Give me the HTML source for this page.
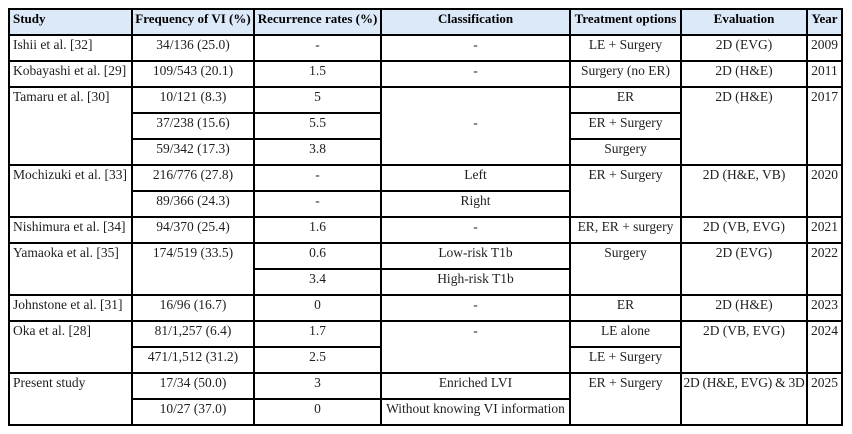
<!DOCTYPE html>
<html>
<head>
<meta charset="utf-8">
<style>
html,body{margin:0;padding:0;background:#fff;}
body{width:852px;height:434px;position:relative;overflow:hidden;font-family:"Liberation Serif","DejaVu Serif",serif;font-size:13.5px;color:#1e1e1e;}
.c{position:absolute;box-sizing:border-box;border:2px solid #000;line-height:15px;padding-top:1px;text-align:center;white-space:nowrap;overflow:visible;}
.h{background:#dce9f9;font-weight:bold;color:#000;font-size:13px;}
.s{text-align:left;padding-left:3px;}
.c0{left:8px;width:125px;}
.c1{left:131px;width:124px;}
.c2{left:253px;width:129px;}
.c3{left:380px;width:191px;}
.c4{left:569px;width:113px;}
.c5{left:680px;width:128px;}
.c6{left:806px;width:37px;}
.r1{height:28px;}
.r2{height:54px;}
.r3{height:80px;}
</style>
</head>
<body>
<!-- header -->
<div class="c h s c0 r1" style="top:8px">Study</div>
<div class="c h c1 r1" style="top:8px">Frequency of VI (%)</div>
<div class="c h c2 r1" style="top:8px">Recurrence rates (%)</div>
<div class="c h c3 r1" style="top:8px">Classification</div>
<div class="c h c4 r1" style="top:8px">Treatment options</div>
<div class="c h c5 r1" style="top:8px">Evaluation</div>
<div class="c h c6 r1" style="top:8px">Year</div>

<!-- r1 Ishii -->
<div class="c s c0 r1" style="top:34px">Ishii et al. [32]</div>
<div class="c c1 r1" style="top:34px">34/136 (25.0)</div>
<div class="c c2 r1" style="top:34px">-</div>
<div class="c c3 r1" style="top:34px">-</div>
<div class="c c4 r1" style="top:34px">LE + Surgery</div>
<div class="c c5 r1" style="top:34px">2D (EVG)</div>
<div class="c c6 r1" style="top:34px">2009</div>

<!-- r2 Kobayashi -->
<div class="c s c0 r1" style="top:60px">Kobayashi et al. [29]</div>
<div class="c c1 r1" style="top:60px">109/543 (20.1)</div>
<div class="c c2 r1" style="top:60px">1.5</div>
<div class="c c3 r1" style="top:60px">-</div>
<div class="c c4 r1" style="top:60px">Surgery (no ER)</div>
<div class="c c5 r1" style="top:60px">2D (H&amp;E)</div>
<div class="c c6 r1" style="top:60px">2011</div>

<!-- r3-5 Tamaru -->
<div class="c s c0 r3" style="top:86px">Tamaru et al. [30]</div>
<div class="c c1 r1" style="top:86px">10/121 (8.3)</div>
<div class="c c2 r1" style="top:86px">5</div>
<div class="c c3 r3" style="top:86px;padding-top:27px">-</div>
<div class="c c4 r1" style="top:86px">ER</div>
<div class="c c5 r3" style="top:86px">2D (H&amp;E)</div>
<div class="c c6 r3" style="top:86px">2017</div>
<div class="c c1 r1" style="top:112px">37/238 (15.6)</div>
<div class="c c2 r1" style="top:112px">5.5</div>
<div class="c c4 r1" style="top:112px">ER + Surgery</div>
<div class="c c1 r1" style="top:138px">59/342 (17.3)</div>
<div class="c c2 r1" style="top:138px">3.8</div>
<div class="c c4 r1" style="top:138px">Surgery</div>

<!-- r6-7 Mochizuki -->
<div class="c s c0 r2" style="top:164px">Mochizuki et al. [33]</div>
<div class="c c1 r1" style="top:164px">216/776 (27.8)</div>
<div class="c c2 r1" style="top:164px">-</div>
<div class="c c3 r1" style="top:164px">Left</div>
<div class="c c4 r2" style="top:164px">ER + Surgery</div>
<div class="c c5 r2" style="top:164px">2D (H&amp;E, VB)</div>
<div class="c c6 r2" style="top:164px">2020</div>
<div class="c c1 r1" style="top:190px">89/366 (24.3)</div>
<div class="c c2 r1" style="top:190px">-</div>
<div class="c c3 r1" style="top:190px">Right</div>

<!-- r8 Nishimura -->
<div class="c s c0 r1" style="top:216px">Nishimura et al. [34]</div>
<div class="c c1 r1" style="top:216px">94/370 (25.4)</div>
<div class="c c2 r1" style="top:216px">1.6</div>
<div class="c c3 r1" style="top:216px">-</div>
<div class="c c4 r1" style="top:216px">ER, ER + surgery</div>
<div class="c c5 r1" style="top:216px">2D (VB, EVG)</div>
<div class="c c6 r1" style="top:216px">2021</div>

<!-- r9-10 Yamaoka -->
<div class="c s c0 r2" style="top:242px">Yamaoka et al. [35]</div>
<div class="c c1 r2" style="top:242px">174/519 (33.5)</div>
<div class="c c2 r1" style="top:242px">0.6</div>
<div class="c c3 r1" style="top:242px">Low-risk T1b</div>
<div class="c c4 r2" style="top:242px">Surgery</div>
<div class="c c5 r2" style="top:242px">2D (EVG)</div>
<div class="c c6 r2" style="top:242px">2022</div>
<div class="c c2 r1" style="top:268px">3.4</div>
<div class="c c3 r1" style="top:268px">High-risk T1b</div>

<!-- r11 Johnstone -->
<div class="c s c0 r1" style="top:294px">Johnstone et al. [31]</div>
<div class="c c1 r1" style="top:294px">16/96 (16.7)</div>
<div class="c c2 r1" style="top:294px">0</div>
<div class="c c3 r1" style="top:294px">-</div>
<div class="c c4 r1" style="top:294px">ER</div>
<div class="c c5 r1" style="top:294px">2D (H&amp;E)</div>
<div class="c c6 r1" style="top:294px">2023</div>

<!-- r12-13 Oka -->
<div class="c s c0 r2" style="top:320px">Oka et al. [28]</div>
<div class="c c1 r1" style="top:320px">81/1,257 (6.4)</div>
<div class="c c2 r1" style="top:320px">1.7</div>
<div class="c c3 r2" style="top:320px">-</div>
<div class="c c4 r1" style="top:320px">LE alone</div>
<div class="c c5 r2" style="top:320px">2D (VB, EVG)</div>
<div class="c c6 r2" style="top:320px">2024</div>
<div class="c c1 r1" style="top:346px">471/1,512 (31.2)</div>
<div class="c c2 r1" style="top:346px">2.5</div>
<div class="c c4 r1" style="top:346px">LE + Surgery</div>

<!-- r14-15 Present -->
<div class="c s c0 r2" style="top:372px">Present study</div>
<div class="c c1 r1" style="top:372px">17/34 (50.0)</div>
<div class="c c2 r1" style="top:372px">3</div>
<div class="c c3 r1" style="top:372px">Enriched LVI</div>
<div class="c c4 r2" style="top:372px">ER + Surgery</div>
<div class="c c5 r2" style="top:372px;letter-spacing:-0.25px">2D (H&amp;E, EVG) &amp; 3D</div>
<div class="c c6 r2" style="top:372px">2025</div>
<div class="c c1 r1" style="top:398px">10/27 (37.0)</div>
<div class="c c2 r1" style="top:398px">0</div>
<div class="c c3 r1" style="top:398px">Without knowing VI information</div>
</body>
</html>
